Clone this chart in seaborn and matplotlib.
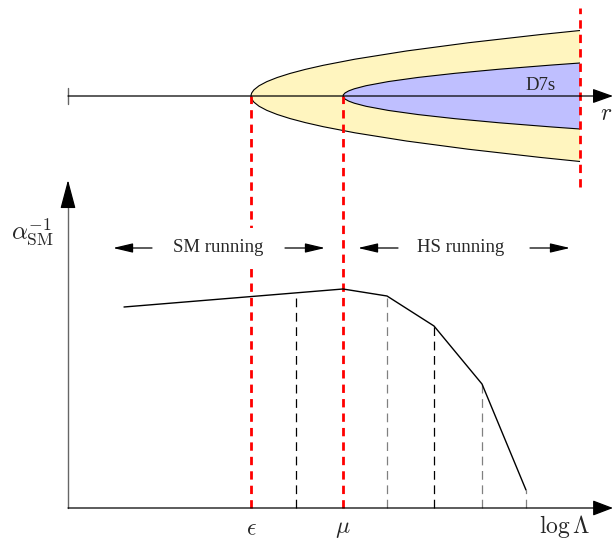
# Sketch: D7 regions along r (top) and running of alpha_SM^-1 vs log Lambda (bottom)

import numpy as np
import pandas as pd
import matplotlib
matplotlib.use("Agg")
import matplotlib.pyplot as plt
from matplotlib.path import Path
from matplotlib.patches import PathPatch
import seaborn as sns

sns.set_theme(style="white")
plt.rcParams['font.family'] = ['Liberation Serif', 'DejaVu Serif']
plt.rcParams['mathtext.fontset'] = 'cm'

# --- data (sketch units: x along log Lambda / r, y height above log Lambda axis) ---
# top part: r axis and the two nested regions
r_start = 68
r_level = 412
eps_x = 251          # apex of yellow region
mu_x = 343           # apex of blue (D7s) region
cut_x = 580          # right cut-off of the regions
yellow_half = 65.5   # half width of yellow region at the cut
blue_half = 33       # half width of blue region at the cut

# bottom part: alpha_SM^-1 against log Lambda
log_lambda = [124, 343, 387, 434, 482, 526]
alpha_inv = [201, 219, 212, 182, 124, 18]

# thresholds (dashed verticals) and where they stop
thresh_x = [296, 387, 434, 482, 526]
thresh_top = [211, 212, 182, 124, 18]
thresh_col = ['black', 'gray', 'black', 'gray', 'gray']

curve = pd.DataFrame({'log_lambda': log_lambda, 'alpha_inv': alpha_inv})

fig = plt.figure(figsize=(6.13, 5.43), dpi=100)
ax = fig.add_axes([0, 0, 1, 1])
ax.set_xlim(0, 613)
ax.set_ylim(-35, 508)
ax.axis('off')


def parabola(apex, end, half):
    # sideways parabola as a quadratic bezier, apex on the r axis
    verts = [(end, r_level + half), (2 * apex - end, r_level), (end, r_level - half)]
    return verts


# filled regions
for apex, half, col in [(eps_x, yellow_half, '#fff5bf'), (mu_x, blue_half, '#bfbfff')]:
    v = parabola(apex, cut_x, half)
    fill = Path(v + [v[0]], [Path.MOVETO, Path.CURVE3, Path.CURVE3, Path.CLOSEPOLY])
    ax.add_patch(PathPatch(fill, facecolor=col, edgecolor='none', zorder=1))
    edge = Path(v, [Path.MOVETO, Path.CURVE3, Path.CURVE3])
    ax.add_patch(PathPatch(edge, facecolor='none', edgecolor='black', lw=0.8, zorder=2))

# r axis
ax.plot([r_start, r_start], [r_level - 8, r_level + 8], color='#666666', lw=1, zorder=3)
ax.annotate('', xy=(613, r_level), xytext=(r_start, r_level),
            arrowprops=dict(arrowstyle='-|>,head_length=0.42,head_width=0.15',
                            mutation_scale=30, color='black', lw=0.9, shrinkA=0, shrinkB=0),
            zorder=3)
ax.text(eps_x + 290, r_level + 11, 'D7s', fontsize=13.5, ha='center', va='center', zorder=4)
ax.text(606, r_level - 18, r'$r$', fontsize=17, ha='center', va='center')

# red dashed lines
red = dict(color='red', lw=2, dashes=(3, 2.2), zorder=2)
ax.plot([eps_x, eps_x], [0, r_level], **red)
ax.plot([mu_x, mu_x], [0, r_level], **red)
ax.plot([cut_x, cut_x], [321, 500], **red)

# bottom axes
ax.plot([68, 68], [0, 310], color='#666666', lw=1, zorder=3)
ax.annotate('', xy=(68, 328), xytext=(68, 305),
            arrowprops=dict(arrowstyle='-|>,head_length=0.6,head_width=0.16',
                            mutation_scale=30, color='black', lw=0.9, shrinkA=0, shrinkB=0))
ax.annotate('', xy=(613, 0), xytext=(68, 0),
            arrowprops=dict(arrowstyle='-|>,head_length=0.42,head_width=0.16',
                            mutation_scale=30, color='black', lw=0.9, shrinkA=0, shrinkB=0),
            zorder=3)

# threshold dashes
for x, top, c in zip(thresh_x, thresh_top, thresh_col):
    ax.plot([x, x], [0, top], color=c, lw=0.9, dashes=(7, 4.5), zorder=2)

# running coupling
sns.lineplot(data=curve, x='log_lambda', y='alpha_inv', sort=False, color='black',
             lw=1, ax=ax, zorder=4)
ax.axis('off')

# labels
ax.text(33, 276, r'$\alpha_{\rm SM}^{-1}$', fontsize=18, ha='center', va='center')
ax.text(eps_x, -22, r'$\epsilon$', fontsize=17, ha='center', va='center')
ax.text(mu_x, -22, r'$\mu$', fontsize=17, ha='center', va='center')
ax.text(565, -19, r'$\log\Lambda$', fontsize=17, ha='center', va='center')

arr = dict(arrowstyle='-|>,head_length=0.55,head_width=0.13', mutation_scale=22,
           color='black', lw=0.9, shrinkA=0, shrinkB=0)
ax.text(218, 260, 'SM running', fontsize=13.5, ha='center', va='center', zorder=5,
        bbox=dict(facecolor='white', edgecolor='none', pad=8))
ax.annotate('', xy=(113, 260), xytext=(152, 260), arrowprops=arr)
ax.annotate('', xy=(325, 260), xytext=(285, 260), arrowprops=arr)
ax.text(461, 260, 'HS running', fontsize=13.5, ha='center', va='center', zorder=5)
ax.annotate('', xy=(358, 260), xytext=(398, 260), arrowprops=arr)
ax.annotate('', xy=(570, 260), xytext=(530, 260), arrowprops=arr)

fig.savefig('out.png', dpi=100)
